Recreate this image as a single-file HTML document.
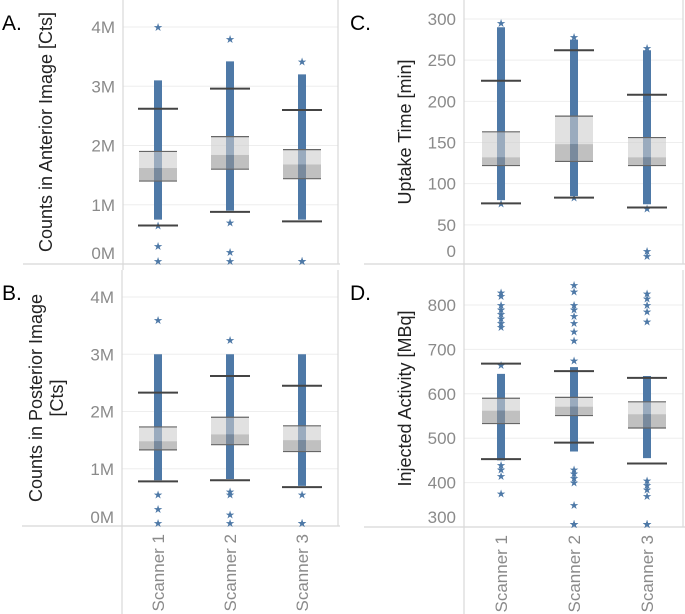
<!DOCTYPE html>
<html><head><meta charset="utf-8"><style>
html,body{margin:0;padding:0;background:#fff}
svg{display:block}
text{font-family:"Liberation Sans",sans-serif}
</style></head><body>
<svg id="c" width="685" height="614" viewBox="0 0 685 614"></svg>
<script>
const scanners=["Scanner 1","Scanner 2","Scanner 3"];
// Panel A (millions)
const aLow=[0.65,0.88,0.72], aQ1=[1.4,1.6,1.44], aMed=[1.62,1.84,1.68], aQ3=[1.9,2.15,1.93], aHigh=[2.62,2.96,2.6];
const aDense=[[0.75,3.1],[0.9,3.42],[0.75,3.2]];
const aOut=[[4.0,0.3,0.0,0.65],[3.8,0.7,0.2,0.0],[3.42,0.02,0.0]];
// Panel B
const bLow=[0.78,0.8,0.68], bQ1=[1.33,1.42,1.3], bMed=[1.48,1.6,1.5], bQ3=[1.73,1.9,1.75], bHigh=[2.33,2.62,2.45];
const bDense=[[0.8,3.0],[0.82,3.0],[0.7,3.0]];
const bOut=[[3.6,0.55,0.3,0.0],[3.25,0.6,0.55,0.2,0.0],[0.55,0.02,0.0]];
// Panel C (min)
const cLow=[76,83,71], cQ1=[122,127,122], cMed=[132,148,132], cQ3=[163,182,156], cHigh=[225,262,208];
const cDense=[[80,290],[85,275],[75,262]];
const cOut=[[295,76],[278,83],[265,70,18,12]];
// Panel D (MBq)
const dLow=[453,490,443], dQ1=[533,551,523], dMed=[562,571,554], dQ3=[590,592,582], dHigh=[668,651,636];
const dDense=[[450,645],[470,660],[455,640]];
const dOut=[[828,820,800,790,780,770,760,750,665,440,430,415,375],[845,830,800,790,775,760,740,720,675,430,420,410,400,350,290,285,280],[826,815,800,785,763,405,395,385,370,300,290,285]];
const aTicks=[0,1,2,3,4], aTickLab=["0M","1M","2M","3M","4M"];
const cTicks=[0,50,100,150,200,250,300];
const dTicks=[300,400,500,600,700,800];

const svg=document.getElementById('c');
const NS="http://www.w3.org/2000/svg";
function mk(tag,attrs,parent){const e=document.createElementNS(NS,tag);for(const k in attrs)e.setAttribute(k,attrs[k]);(parent||svg).appendChild(e);return e;}

const panels=[
 {id:"a",letter:"A.",ly:30,lx:2,left:123,right:338,top:0,bottom:264,v0:0,y0:264,v1:4,y1:27,ticks:aTicks,labs:aTickLab,tickMin:253,low:aLow,q1:aQ1,med:aMed,q3:aQ3,high:aHigh,dense:aDense,out:aOut,cx:[158,230,302],title:["Counts in Anterior Image [Cts]"],tx:46},
 {id:"b",letter:"B.",ly:300,lx:2,left:122,right:338,top:270,bottom:526,v0:0,y0:526,v1:4,y1:297,ticks:aTicks,labs:aTickLab,tickMin:517,low:bLow,q1:bQ1,med:bMed,q3:bQ3,high:bHigh,dense:bDense,out:bOut,cx:[158,230,302],title:["Counts in Posterior Image","[Cts]"],tx:46},
 {id:"c",letter:"C.",ly:30,lx:350,left:464,right:683,top:0,bottom:264,v0:0,y0:266,v1:300,y1:19,ticks:cTicks,labs:cTicks.map(String),tickMin:251,low:cLow,q1:cQ1,med:cMed,q3:cQ3,high:cHigh,dense:cDense,out:cOut,cx:[501,574,647],title:["Uptake Time [min]"],tx:405},
 {id:"d",letter:"D.",ly:300,lx:350,left:464,right:683,top:270,bottom:527,v0:300,y0:527,v1:800,y1:305,ticks:dTicks,labs:dTicks.map(String),tickMin:517,low:dLow,q1:dQ1,med:dMed,q3:dQ3,high:dHigh,dense:dDense,out:dOut,cx:[501,574,647],title:["Injected Activity [MBq]"],tx:405}
];
const blue="#4e79a7";
panels.forEach(p=>{
 const ys=v=>p.y0+(v-p.v0)*(p.y1-p.y0)/(p.v1-p.v0);
 const g=mk('g',{});
 
 
 p.ticks.forEach((t,i)=>{
  const y=ys(t);
  if(y>p.top+2&&y<p.bottom-2){const gl=mk('line',{x1:p.left,x2:p.right,y1:y,y2:y,stroke:"#eeeeee","stroke-width":1},g);
   }
  const tl=mk('text',{x:p.left-8,y:Math.min(y,p.tickMin)+6,"text-anchor":"end","font-size":17,fill:"#8a8a8a"},g);
  tl.textContent=p.labs[i];
  
 });
 const fl=mk('line',{x1:p.left,x2:p.left,y1:p.top,y2:p.id==='a'||p.id==='c'?p.bottom+6:614,stroke:"#d8d8d8","stroke-width":1.2},g);
 
 const fr=mk('line',{x1:p.right,x2:p.right,y1:p.top,y2:p.bottom,stroke:"#d8d8d8","stroke-width":1.2},g);
 
 const fb=mk('line',{x1:p.left-100,x2:p.right+2,y1:p.bottom,y2:p.bottom,stroke:"#d8d8d8","stroke-width":1.2},g);
 
 const lt=mk('text',{x:p.lx,y:p.ly,"font-size":21,fill:"#000"},g);lt.textContent=p.letter;
 
 const midY=(p.top+p.bottom)/2;
 const tt=mk('text',{transform:`translate(${p.tx},${midY}) rotate(-90)`,"text-anchor":"middle","font-size":18,fill:"#222"},g);
 
 p.title.forEach((s,i)=>{const ts=mk('tspan',{x:0,dy:i?21:(p.title.length>1?-4:6)},tt);ts.textContent=s;});
 scanners.forEach((s,i)=>{
  const cx=p.cx[i];
  const dn=mk('line',{x1:cx,x2:cx,y1:ys(p.dense[i][0]),y2:ys(p.dense[i][1]),stroke:blue,"stroke-width":8},g);
  
  p.out[i].forEach(v=>{
   const y=Math.min(Math.max(ys(v),p.top+4),p.bottom-3);
   const st=mk('text',{x:cx,y:y+4,"text-anchor":"middle","font-size":11,fill:blue},g);
   st.textContent="★";
   
  });
  const bx=cx-19,bw=38;
  const up=mk('rect',{x:bx,y:ys(p.q3[i]),width:bw,height:ys(p.med[i])-ys(p.q3[i]),fill:"rgba(205,205,205,0.6)"},g);
  
  const lo=mk('rect',{x:bx,y:ys(p.med[i]),width:bw,height:ys(p.q1[i])-ys(p.med[i]),fill:"rgba(150,150,150,0.6)"},g);
  
  [p.q1[i],p.q3[i]].forEach(v=>{const l=mk('line',{x1:bx,x2:bx+bw,y1:ys(v),y2:ys(v),stroke:"#666","stroke-width":1.2},g);
   });
  [p.low[i],p.high[i]].forEach(v=>{const l=mk('line',{x1:bx-1,x2:bx+bw+1,y1:ys(v),y2:ys(v),stroke:"#444","stroke-width":2},g);
   });
  if(p.id==='b'||p.id==='d'){
   const xl=mk('text',{transform:`translate(${cx+6},${p.bottom+8}) rotate(-90)`,"text-anchor":"end","font-size":17,fill:"#8a8a8a"},g);
   xl.textContent=s;
   
  }
 });
});
</script>
</body></html>
